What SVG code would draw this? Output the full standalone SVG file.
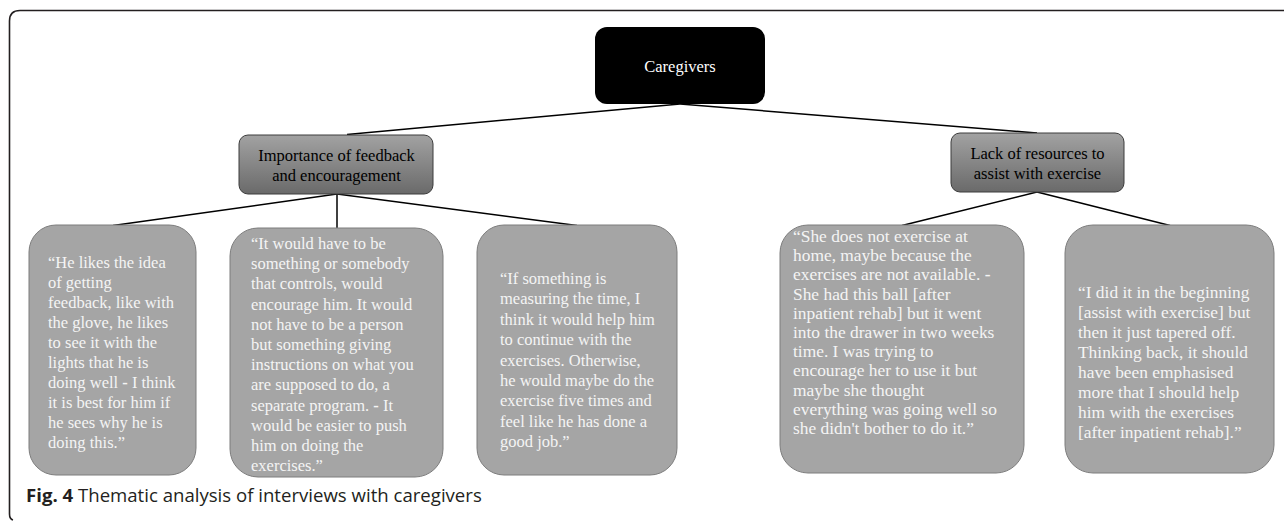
<svg xmlns="http://www.w3.org/2000/svg" width="1284" height="521" viewBox="0 0 1284 521">
<defs>
<linearGradient id="midg" x1="0" y1="0" x2="0" y2="1">
<stop offset="0" stop-color="#a2a2a2"/>
<stop offset="1" stop-color="#6a6a6a"/>
</linearGradient>
<style>
.frame{fill:none;stroke:#231f20;stroke-width:1.6}
.conn line{stroke:#000;stroke-width:1.5}
.top{fill:#000}
.mid{fill:url(#midg);stroke:#3c3c3c;stroke-width:1}
.leaf{fill:#a5a5a5;stroke:#7d7d7d;stroke-width:1}
.serif{font-family:"Liberation Serif","Times New Roman",serif}
.tw{fill:#fff;font-size:16.5px}
.tm{fill:#000;font-size:16.5px;text-anchor:middle}
.tl{fill:#f4f4f4;font-size:16.5px}
.tl2{fill:#f4f4f4;font-size:17.4px}
.cap{font-family:"Open Sans","Noto Sans","Liberation Sans",sans-serif;font-size:18.6px;fill:#231f20}
</style>
</defs>
<rect width="1284" height="521" fill="#fff"/>
<path class="frame" d="M13,520 Q9.5,519 9.5,514 V21 Q9.5,10.5 20,10.5 H1284"/>
<g id="connectors" class="conn">
<line x1="680" y1="104" x2="347" y2="134.5"/>
<line x1="680" y1="104" x2="1037" y2="133"/>
<line x1="337" y1="194" x2="113" y2="225.5"/>
<line x1="337" y1="194" x2="337" y2="228.5"/>
<line x1="337" y1="194" x2="577" y2="225.5"/>
<line x1="1037" y1="192" x2="902" y2="225.5"/>
<line x1="1037" y1="192" x2="1170" y2="225.5"/>
</g>
<g id="node-caregivers">
<rect class="top" x="595" y="27" width="170" height="77" rx="12"/>
<text class="serif tw" x="680" y="72" text-anchor="middle">Caregivers</text>
</g>
<g id="node-feedback">
<rect class="mid" x="239" y="135" width="194" height="59" rx="9"/>
<text class="serif tm"><tspan x="336.5" y="160.5">Importance of feedback</tspan><tspan x="336.5" y="180.5">and encouragement</tspan></text>
</g>
<g id="node-resources">
<rect class="mid" x="951" y="133" width="173" height="59" rx="9"/>
<text class="serif tm"><tspan x="1037.5" y="158.5">Lack of resources to</tspan><tspan x="1037.5" y="178.5">assist with exercise</tspan></text>
</g>
<g id="leaf-1">
<rect class="leaf" x="29" y="225" width="167" height="250" rx="27"/>
<text class="serif tl">
<tspan x="48" y="268">“He likes the idea</tspan>
<tspan x="48" dy="20">of getting</tspan>
<tspan x="48" dy="20">feedback, like with</tspan>
<tspan x="48" dy="20">the glove, he likes</tspan>
<tspan x="48" dy="20">to see it with the</tspan>
<tspan x="48" dy="20">lights that he is</tspan>
<tspan x="48" dy="20">doing well <tspan font-weight="bold">-</tspan> I think</tspan>
<tspan x="48" dy="20">it is best for him if</tspan>
<tspan x="48" dy="20">he sees why he is</tspan>
<tspan x="48" dy="20">doing this.”</tspan>
</text>
</g>
<g id="leaf-2">
<rect class="leaf" x="230" y="228" width="213" height="249" rx="28"/>
<text class="serif tl">
<tspan x="251" y="249">“It would have to be</tspan>
<tspan x="251" dy="20.2">something or somebody</tspan>
<tspan x="251" dy="20.2">that controls, would</tspan>
<tspan x="251" dy="20.2">encourage him. It would</tspan>
<tspan x="251" dy="20.2">not have to be a person</tspan>
<tspan x="251" dy="20.2">but something giving</tspan>
<tspan x="251" dy="20.2">instructions on what you</tspan>
<tspan x="251" dy="20.2">are supposed to do, a</tspan>
<tspan x="251" dy="20.2">separate program. <tspan font-weight="bold">-</tspan> It</tspan>
<tspan x="251" dy="20.2">would be easier to push</tspan>
<tspan x="251" dy="20.2">him on doing the</tspan>
<tspan x="251" dy="20.2">exercises.”</tspan>
</text>
</g>
<g id="leaf-3">
<rect class="leaf" x="477" y="225" width="200" height="250" rx="27"/>
<text class="serif tl">
<tspan x="500" y="284">“If something is</tspan>
<tspan x="500" dy="20.4">measuring the time, I</tspan>
<tspan x="500" dy="20.4">think it would help him</tspan>
<tspan x="500" dy="20.4">to continue with the</tspan>
<tspan x="500" dy="20.4">exercises. Otherwise,</tspan>
<tspan x="500" dy="20.4">he would maybe do the</tspan>
<tspan x="500" dy="20.4">exercise five times and</tspan>
<tspan x="500" dy="20.4">feel like he has done a</tspan>
<tspan x="500" dy="20.4">good job.”</tspan>
</text>
</g>
<g id="leaf-4">
<rect class="leaf" x="780" y="225" width="244" height="248" rx="28"/>
<text class="serif tl2">
<tspan x="793" y="242">“She does not exercise at</tspan>
<tspan x="793" dy="19.2">home, maybe because the</tspan>
<tspan x="793" dy="19.2">exercises are not available. <tspan font-weight="bold">-</tspan></tspan>
<tspan x="793" dy="19.2">She had this ball [after</tspan>
<tspan x="793" dy="19.2">inpatient rehab] but it went</tspan>
<tspan x="793" dy="19.2">into the drawer in two weeks</tspan>
<tspan x="793" dy="19.2">time. I was trying to</tspan>
<tspan x="793" dy="19.2">encourage her to use it but</tspan>
<tspan x="793" dy="19.2">maybe she thought</tspan>
<tspan x="793" dy="19.2">everything was going well so</tspan>
<tspan x="793" dy="19.2">she didn't bother to do it.”</tspan>
</text>
</g>
<g id="leaf-5">
<rect class="leaf" x="1065" y="225" width="209" height="248" rx="28"/>
<text class="serif tl2">
<tspan x="1078" y="298">“I did it in the beginning</tspan>
<tspan x="1078" dy="20">[assist with exercise] but</tspan>
<tspan x="1078" dy="20">then it just tapered off.</tspan>
<tspan x="1078" dy="20">Thinking back, it should</tspan>
<tspan x="1078" dy="20">have been emphasised</tspan>
<tspan x="1078" dy="20">more that I should help</tspan>
<tspan x="1078" dy="20">him with the exercises</tspan>
<tspan x="1078" dy="20">[after inpatient rehab].”</tspan>
</text>
</g>
<g id="caption">
<text class="cap" x="26" y="502"><tspan font-weight="bold">Fig. 4</tspan> Thematic analysis of interviews with caregivers</text>
</g>
</svg>
